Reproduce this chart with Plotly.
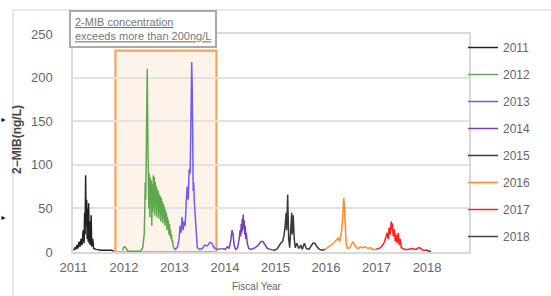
import plotly.graph_objects as go

# ---------------- data ----------------
years = ["2011", "2012", "2013", "2014", "2015", "2016", "2017", "2018"]
colors = ["#222222", "#5fa84f", "#6b5cff", "#7a3fb8", "#3a3a3a", "#ff8a2a", "#ff2020", "#444444"]

x2011 = [2011.00, 2011.03, 2011.05, 2011.07, 2011.09, 2011.11, 2011.13, 2011.15, 2011.17, 2011.19,
         2011.21, 2011.22, 2011.23, 2011.24, 2011.25, 2011.26, 2011.27, 2011.28, 2011.29, 2011.30,
         2011.31, 2011.32, 2011.33, 2011.35, 2011.36, 2011.38, 2011.40, 2011.45, 2011.55, 2011.65,
         2011.75, 2011.80]
y2011 = [2, 5, 3, 8, 4, 12, 6, 15, 8, 25,
         10, 45, 20, 88, 30, 60, 15, 50, 12, 56,
         10, 35, 8, 42, 6, 15, 4, 3, 2, 2,
         2, 1]

x2012 = [2011.97, 2011.99, 2012.02, 2012.05, 2012.08, 2012.15, 2012.25, 2012.33, 2012.37,
         2012.40, 2012.41, 2012.42, 2012.43, 2012.44, 2012.45, 2012.46, 2012.47, 2012.48, 2012.49,
         2012.50, 2012.51, 2012.52, 2012.53, 2012.54, 2012.55, 2012.56, 2012.57, 2012.58, 2012.59,
         2012.60, 2012.61, 2012.62, 2012.63, 2012.64, 2012.65, 2012.66, 2012.67, 2012.68, 2012.69,
         2012.70, 2012.71, 2012.72, 2012.73, 2012.74, 2012.75, 2012.76, 2012.77, 2012.78, 2012.79,
         2012.80, 2012.81, 2012.82, 2012.83, 2012.84, 2012.85, 2012.86, 2012.87, 2012.88, 2012.89,
         2012.90, 2012.91, 2012.92, 2012.93, 2012.94, 2012.95, 2012.96, 2012.97, 2012.98]
y2012 = [2, 5, 6, 3, 1, 1, 1, 1, 5,
         20, 45, 80, 60, 120, 170, 210, 140, 85, 50,
         90, 40, 85, 55, 82, 30, 78, 45, 88, 50,
         86, 42, 80, 55, 75, 40, 72, 50, 70, 38,
         66, 45, 64, 35, 62, 42, 58, 33, 55, 40,
         52, 30, 48, 35, 45, 25, 40, 28, 36, 20,
         32, 18, 26, 15, 20, 12, 14, 8, 5]

x2013 = [2012.98, 2013.02, 2013.06, 2013.09, 2013.11, 2013.13, 2013.15, 2013.17, 2013.19, 2013.21,
         2013.23, 2013.25, 2013.27, 2013.29, 2013.31, 2013.33, 2013.34, 2013.35, 2013.36, 2013.37,
         2013.38, 2013.39, 2013.41, 2013.43, 2013.45, 2013.50, 2013.55, 2013.60, 2013.65, 2013.70,
         2013.74, 2013.78, 2013.85, 2013.95]
y2013 = [5, 3, 6, 15, 30, 22, 40, 25, 35, 30,
         55, 75, 60, 95, 90, 150, 218, 190, 120, 70,
         80, 60, 40, 15, 5, 3, 4, 8, 7, 11,
         10, 5, 3, 4]

x2014 = [2013.95, 2014.00, 2014.05, 2014.08, 2014.11, 2014.14, 2014.16, 2014.18, 2014.21, 2014.25,
         2014.28, 2014.30, 2014.31, 2014.32, 2014.33, 2014.34, 2014.35, 2014.36, 2014.37, 2014.38,
         2014.39, 2014.40, 2014.41, 2014.42, 2014.44, 2014.47, 2014.52, 2014.60, 2014.66, 2014.71,
         2014.75, 2014.79, 2014.84, 2014.90, 2014.97]
y2014 = [4, 3, 6, 4, 12, 25, 20, 8, 3, 5,
         15, 25, 18, 32, 22, 38, 25, 43, 28, 36,
         20, 30, 15, 22, 10, 4, 3, 5, 8, 12,
         12, 8, 4, 3, 2]

x2015 = [2014.97, 2015.02, 2015.06, 2015.10, 2015.14, 2015.17, 2015.19, 2015.21, 2015.22, 2015.24,
         2015.25, 2015.26, 2015.28, 2015.30, 2015.32, 2015.33, 2015.35, 2015.37, 2015.39, 2015.42,
         2015.46, 2015.50, 2015.53, 2015.57, 2015.61, 2015.66, 2015.70, 2015.74, 2015.78, 2015.82,
         2015.87, 2015.93, 2015.98]
y2015 = [2, 3, 6, 10, 12, 20, 30, 45, 25, 66,
         40, 15, 5, 30, 45, 20, 42, 15, 5, 10,
         4, 8, 3, 10, 4, 3, 6, 10, 10, 6,
         3, 2, 3]

x2016 = [2015.98, 2016.03, 2016.07, 2016.11, 2016.15, 2016.18, 2016.21, 2016.24, 2016.27, 2016.29,
         2016.31, 2016.33, 2016.35, 2016.36, 2016.38, 2016.40, 2016.43, 2016.47, 2016.50, 2016.53,
         2016.56, 2016.60, 2016.64, 2016.68, 2016.73, 2016.78, 2016.83, 2016.88, 2016.93, 2016.98]
y2016 = [3, 5, 6, 8, 10, 12, 14, 16, 12, 20,
         25, 40, 62, 55, 25, 8, 4, 5, 8, 12,
         9, 5, 4, 6, 5, 6, 4, 5, 3, 3]

x2017 = [2016.98, 2017.03, 2017.08, 2017.12, 2017.16, 2017.19, 2017.21, 2017.23, 2017.25, 2017.27,
         2017.29, 2017.30, 2017.31, 2017.33, 2017.35, 2017.37, 2017.39, 2017.41, 2017.43, 2017.45,
         2017.47, 2017.49, 2017.52, 2017.56, 2017.62, 2017.70, 2017.78, 2017.84, 2017.88, 2017.92,
         2017.96]
y2017 = [3, 4, 5, 8, 12, 18, 22, 15, 28, 20,
         35, 25, 33, 18, 26, 12, 20, 10, 22, 8,
         15, 5, 4, 3, 3, 4, 3, 5, 4, 2,
         2]

x2018 = [2017.96, 2018.00, 2018.04, 2018.08]
y2018 = [2, 2, 1, 1]

xs = [x2011, x2012, x2013, x2014, x2015, x2016, x2017, x2018]
ys = [y2011, y2012, y2013, y2014, y2015, y2016, y2017, y2018]

x_ticks = [2011, 2012, 2013, 2014, 2015, 2016, 2017, 2018]
y_ticks = [0, 50, 100, 150, 200, 250]

highlight_x0, highlight_x1, highlight_top = 2011.83, 2013.83, 231
note_lines = ["2-MIB concentration", "exceeds more than 200ng/L"]

# ---------------- figure ----------------
W, H = 551, 296
ML, MR, MT, MB = 73, 82, 34, 44
PW, PH = W - ML - MR, H - MT - MB

def px(xp):
    return (xp - ML) / PW

def py(yp):
    return (H - MB - yp) / PH

fig = go.Figure()
for name, c, x, y in zip(years, colors, xs, ys):
    fig.add_trace(go.Scatter(x=x, y=y, mode="lines", name=name, legendgroup=name,
                             line=dict(color=c, width=1.5)))

fig.update_layout(
    width=W, height=H,
    margin=dict(l=ML, r=MR, t=MT, b=MB, autoexpand=False),
    paper_bgcolor="white", plot_bgcolor="white",
    font=dict(family="Liberation Sans, Arial, sans-serif", color="#666666", size=13),
    showlegend=True,
    legend=dict(x=px(463), xanchor="left", y=py(33), yanchor="top",
                tracegroupgap=8, font=dict(size=12, color="#666666"),
                bgcolor="rgba(0,0,0,0)", itemwidth=30, maxheight=400),
    xaxis=dict(range=[2010.99, 2018.83], tickvals=x_ticks, ticktext=[str(v) for v in x_ticks],
               showgrid=False, zeroline=False, showline=True, linecolor="#d9d9d9", linewidth=1.5,
               mirror=True, ticks="", ticklabelstandoff=3, fixedrange=True),
    yaxis=dict(range=[0, 250], tickvals=y_ticks, showgrid=True, gridcolor="#e2e2e2", gridwidth=1.5,
               zeroline=False, showline=True, linecolor="#d9d9d9", linewidth=1.5, mirror=True,
               ticks="", ticklabelstandoff=16, fixedrange=True),
)

# highlighted period
fig.add_shape(type="rect", xref="x", yref="y", x0=highlight_x0, x1=highlight_x1, y0=0, y1=highlight_top,
              fillcolor="rgba(252,228,205,0.45)", line=dict(color="#f7a35c", width=2.2), layer="below")

# outer frame (left and top edges)
fig.add_shape(type="line", xref="paper", yref="paper", x0=px(13), x1=px(13), y0=py(10), y1=py(300),
              line=dict(color="#e0e0e0", width=1.5))
fig.add_shape(type="line", xref="paper", yref="paper", x0=px(13), x1=px(560), y0=py(10), y1=py(10),
              line=dict(color="#e0e0e0", width=1.5))

# note box
fig.add_annotation(xref="paper", yref="paper", x=px(69), y=py(10), xanchor="left", yanchor="top",
                   text="<br>".join("<u>%s</u>" % s for s in note_lines),
                   showarrow=False, align="left", font=dict(size=11, color="#777777"),
                   bordercolor="#aaaaaa", borderwidth=2, borderpad=4, bgcolor="white")

# axis titles
fig.add_annotation(xref="paper", yref="paper", x=px(17), y=py(140), xanchor="center", yanchor="middle",
                   text="<b>2−MIB(ng/L)</b>", textangle=-90, showarrow=False,
                   font=dict(size=12, color="#444444"))
fig.add_annotation(xref="paper", yref="paper", x=px(257), y=py(286), xanchor="center", yanchor="middle",
                   text="Fiscal Year", showarrow=False, font=dict(size=10, color="#666666"))

# margin arrows
for yy in (120, 217):
    fig.add_annotation(xref="paper", yref="paper", x=px(3), y=py(yy), xanchor="center", yanchor="middle",
                       text="►", showarrow=False, font=dict(size=7, color="#111111"))

fig.write_html("out.html", post_script="document.body.style.margin='0';",
               config={"displayModeBar": False})
